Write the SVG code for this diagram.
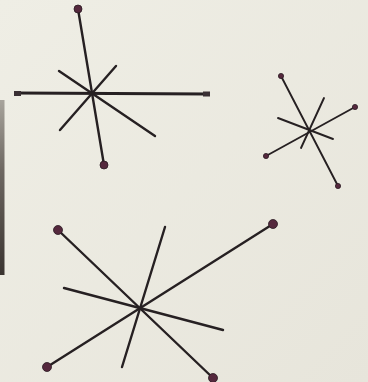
<svg xmlns="http://www.w3.org/2000/svg" width="368" height="382" viewBox="0 0 368 382">
<defs>
<style>
.bar{stroke:#262022;stroke-width:2.4;stroke-linecap:round;fill:none}
.thin{stroke-width:1.9}
.knob{fill:#55283d;stroke:#2a1a22;stroke-width:0.8}
.cap{fill:#3a3034}
</style>
<linearGradient id="bg" x1="0" y1="0" x2="1" y2="1">
<stop offset="0" stop-color="#efeee5"/>
<stop offset="1" stop-color="#e7e5db"/>
</linearGradient>
<linearGradient id="strip" x1="0" y1="0" x2="0" y2="1">
<stop offset="0" stop-color="#a8a49c"/>
<stop offset="0.4" stop-color="#6e6862"/>
<stop offset="1" stop-color="#3a3430"/>
</linearGradient>
</defs>
<rect width="368" height="382" fill="url(#bg)"/>
<rect x="0" y="100" width="4.5" height="175" fill="url(#strip)"/>
<g id="star1">
<line class="bar" x1="78" y1="9" x2="104" y2="165"/>
<line class="bar" x1="16" y1="93" x2="208" y2="94" style="stroke-width:2.8"/>
<line class="bar" x1="59" y1="71" x2="155" y2="136"/>
<line class="bar" x1="116" y1="66" x2="60" y2="130"/>
<rect class="cap" x="14" y="91" width="7" height="5"/>
<rect class="cap" x="203" y="91.5" width="7" height="5"/>
<circle class="knob" cx="78" cy="9" r="4"/>
<circle class="knob" cx="104" cy="165" r="4"/>
</g>
<g id="star2">
<line class="bar thin" x1="281" y1="76" x2="338" y2="186"/>
<line class="bar thin" x1="355" y1="107" x2="266" y2="156"/>
<line class="bar thin" x1="324" y1="98" x2="301" y2="148"/>
<line class="bar thin" x1="278" y1="118" x2="333" y2="139"/>
<circle class="knob" cx="281" cy="76" r="2.6"/>
<circle class="knob" cx="338" cy="186" r="2.6"/>
<circle class="knob" cx="355" cy="107" r="2.6"/>
<circle class="knob" cx="266" cy="156" r="2.6"/>
</g>
<g id="star3">
<line class="bar" x1="58" y1="230" x2="213" y2="378"/>
<line class="bar" x1="273" y1="224" x2="47" y2="367"/>
<line class="bar" x1="165" y1="227" x2="122" y2="367"/>
<line class="bar" x1="64" y1="288" x2="223" y2="330"/>
<circle class="knob" cx="58" cy="230" r="4.5"/>
<circle class="knob" cx="213" cy="378" r="4.5"/>
<circle class="knob" cx="273" cy="224" r="4.5"/>
<circle class="knob" cx="47" cy="367" r="4.5"/>
</g>
</svg>
